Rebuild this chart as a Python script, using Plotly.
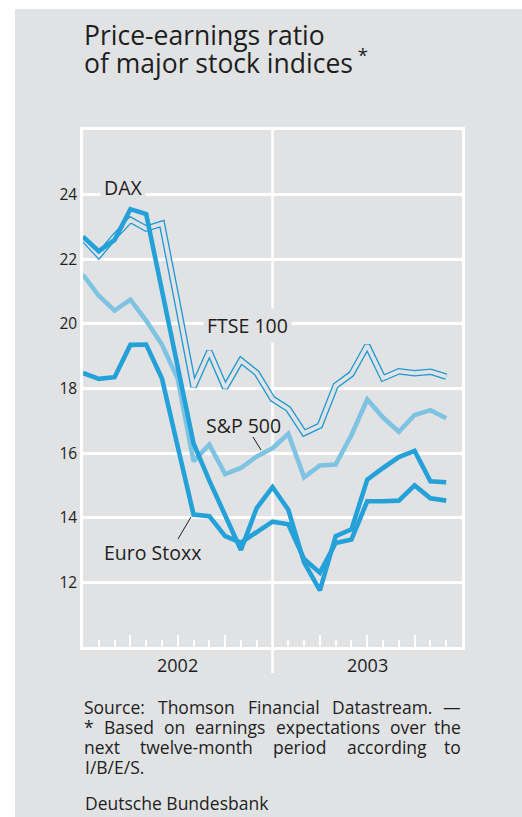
import plotly.graph_objects as go

# ---------------- data (monthly, Jan 2002 .. Dec 2003) ----------------
month_index = list(range(24))
dax = [22.7, 22.25, 22.6, 23.55, 23.4, 21.0, 18.6, 16.3, 15.15, 14.05, 13.0, 14.3,
       14.95, 14.25, 12.62, 11.75, 13.43, 13.64, 15.18, 15.54, 15.88, 16.07, 15.13, 15.1]
euro_stoxx = [18.48, 18.3, 18.35, 19.35, 19.36, 18.31, 16.2, 14.1, 14.05, 13.43, 13.23, 13.55,
              13.88, 13.8, 12.72, 12.3, 13.22, 13.33, 14.51, 14.51, 14.53, 15.0, 14.6, 14.53]
sp500 = [21.52, 20.87, 20.41, 20.75, 20.1, 19.36, 18.3, 15.75, 16.26, 15.35, 15.54, 15.9,
         16.15, 16.6, 15.25, 15.62, 15.65, 16.56, 17.66, 17.1, 16.66, 17.18, 17.33, 17.08]
ftse100 = [22.65, 22.12, 22.7, 23.22, 22.95, 23.1, 20.6, 18.05, 19.15, 18.02, 18.87, 18.48,
           17.68, 17.37, 16.62, 16.85, 18.09, 18.45, 19.33, 18.32, 18.53, 18.47, 18.52, 18.37]

y_ticks = [12, 14, 16, 18, 20, 22, 24]
year_labels = ["2002", "2003"]
year_label_pos = [6, 18]
quarter_ticks = [3, 6, 9, 15, 18, 21]
month_ticks = list(range(1, 24))
year_break = 12

title_lines = ["Price-earnings ratio", "of major stock indices<sup> *</sup>"]
foot_lines = [
    ["Source:", "Thomson", "Financial", "Datastream.", "\u2014"],
    ["*", "Based", "on", "earnings", "expectations", "over", "the"],
    ["next", "twelve-month", "period", "according", "to"],
]
foot_last = "I/B/E/S."
publisher = "Deutsche Bundesbank"

# ---------------- styling ----------------
W, H = 522, 817
L, R, T, B = 83, 462, 130, 647
GREY = "#e1e2e4"
TXT = "#1e1e1e"
BLUE = "#25a1da"
LIGHT = "#7fc3e3"
THIN = "#1c98d4"
FONT = "Open Sans"


def px(x):
    return (x - L) / (R - L)


def py(y):
    return (B - y) / (B - T)


# approximate Open Sans advance widths (em) for justification
CW = {' ': .26, '*': .549, '-': .322, '.': .266, '/': .367, ':': .266, '\u2014': 1.0,
      'A': .633, 'B': .648, 'D': .729, 'E': .556, 'F': .516, 'I': .269, 'P': .604,
      'S': .55, 'T': .56, 'a': .556, 'b': .613, 'c': .476, 'd': .613, 'e': .561,
      'f': .339, 'g': .548, 'h': .614, 'i': .253, 'k': .525, 'l': .253, 'm': .93,
      'n': .614, 'o': .604, 'p': .613, 'r': .408, 's': .477, 't': .353, 'u': .614,
      'v': .501, 'w': .778, 'x': .524, 'y': .502}


def wwidth(word, size):
    return sum(CW.get(c, .55) for c in word) * size


fig = go.Figure()

fig.add_trace(go.Scatter(x=month_index, y=ftse100, mode="lines",
                         line=dict(color=THIN, width=6.5), hoverinfo="skip"))
fig.add_trace(go.Scatter(x=month_index, y=ftse100, mode="lines",
                         line=dict(color=GREY, width=3.9), name="FTSE 100"))
fig.add_trace(go.Scatter(x=month_index, y=sp500, mode="lines",
                         line=dict(color=LIGHT, width=4.6), name="S&P 500"))
fig.add_trace(go.Scatter(x=month_index, y=euro_stoxx, mode="lines",
                         line=dict(color=BLUE, width=4.6), name="Euro Stoxx"))
fig.add_trace(go.Scatter(x=month_index, y=dax, mode="lines",
                         line=dict(color=BLUE, width=4.6), name="DAX"))

shapes = [
    dict(type="rect", xref="paper", yref="paper", x0=px(15), x1=px(W), y0=py(H), y1=py(9),
         fillcolor=GREY, line=dict(width=0), layer="below"),
    dict(type="line", xref="x", yref="paper", x0=year_break, x1=year_break, y0=py(673), y1=1,
         line=dict(color="white", width=2.5), layer="below"),
    # leader lines
    dict(type="line", xref="paper", yref="paper", x0=px(253), y0=py(437), x1=px(261), y1=py(450),
         line=dict(color=TXT, width=1)),
    dict(type="line", xref="paper", yref="paper", x0=px(178), y0=py(539), x1=px(191), y1=py(517),
         line=dict(color=TXT, width=1)),
]

ann = []
# title
ann.append(dict(xref="paper", yref="paper", x=px(82), y=py(35), xanchor="left", yanchor="middle",
                text=title_lines[0], showarrow=False, font=dict(size=26.5, color=TXT)))
ann.append(dict(xref="paper", yref="paper", x=px(82), y=py(62), xanchor="left", yanchor="middle",
                text=title_lines[1], showarrow=False, font=dict(size=26.5, color=TXT)))

# year labels under the axis
for lab, pos in zip(year_labels, year_label_pos):
    ann.append(dict(xref="x", yref="paper", x=pos, y=py(665), xanchor="center", yanchor="middle",
                    text=lab, showarrow=False, font=dict(size=18, color=TXT)))

# series labels
for txt, cx, cy, bg in [("DAX", 123, 188, True), ("FTSE 100", 247.5, 325, True),
                        ("S&amp;P 500", 243, 425, False), ("Euro Stoxx", 152, 552, False)]:
    ann.append(dict(xref="paper", yref="paper", x=px(cx), y=py(cy), xanchor="center", yanchor="middle",
                    text=txt, showarrow=False, font=dict(size=19.5, color=TXT),
                    bgcolor=GREY if bg else None, borderpad=3))

# footnote, justified between L and R
FS = 17.5
for li, words in enumerate(foot_lines):
    yy = 706.5 + 20 * li
    widths = [wwidth(w, FS) for w in words]
    gap = ((R - L) - sum(widths)) / (len(words) - 1)
    xpos = L
    for wi, w in enumerate(words):
        if wi == len(words) - 1:
            ann.append(dict(xref="paper", yref="paper", x=px(R), y=py(yy), xanchor="right",
                            yanchor="middle", text=w, showarrow=False, font=dict(size=FS, color=TXT),
                            borderpad=0))
        else:
            ann.append(dict(xref="paper", yref="paper", x=px(xpos), y=py(yy), xanchor="left",
                            yanchor="middle", text=w, showarrow=False, font=dict(size=FS, color=TXT),
                            borderpad=0))
        xpos += widths[wi] + gap
ann.append(dict(xref="paper", yref="paper", x=px(L), y=py(766.5), xanchor="left", yanchor="middle",
                text=foot_last, showarrow=False, font=dict(size=FS, color=TXT)))
ann.append(dict(xref="paper", yref="paper", x=px(L), y=py(803), xanchor="left", yanchor="middle",
                text=publisher, showarrow=False, font=dict(size=FS, color=TXT)))

fig.update_layout(
    width=W, height=H,
    margin=dict(l=L, r=W - R, t=T, b=H - B, pad=0),
    paper_bgcolor="white", plot_bgcolor=GREY,
    showlegend=False,
    font=dict(family=FONT, color=TXT),
    shapes=shapes, annotations=ann,
    xaxis=dict(range=[0, 24], showgrid=False, zeroline=False,
               showline=True, mirror=True, linecolor="white", linewidth=2.5,
               ticks="inside", tickmode="array", tickvals=quarter_ticks,
               showticklabels=False,
               ticklen=12, tickwidth=2, tickcolor="white",
               minor=dict(ticks="inside", tickmode="array", tickvals=month_ticks,
                          ticklen=7, tickwidth=2, tickcolor="white"),
               fixedrange=True),
    yaxis=dict(range=[10, 26], tickmode="array", tickvals=y_ticks,
               showgrid=True, gridcolor="white", gridwidth=2.5, zeroline=False,
               showline=True, mirror=True, linecolor="white", linewidth=2.5,
               ticks="", tickfont=dict(size=15.5, color=TXT), ticklabelstandoff=0,
               fixedrange=True),
)

fig.write_html("out.html", config={"displayModeBar": False},
               post_script="document.body.style.margin='0';")
